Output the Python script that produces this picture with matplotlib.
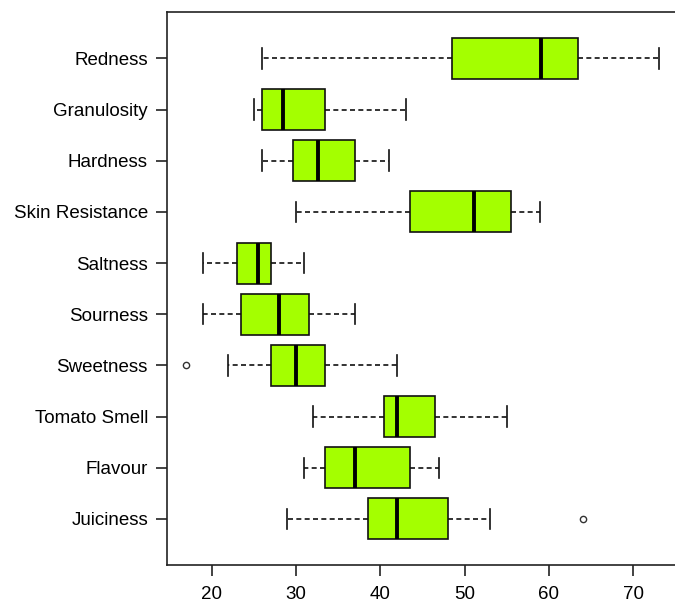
import matplotlib
matplotlib.use("Agg")
import matplotlib.pyplot as plt

# attributes, top to bottom as drawn
attributes = ["Redness", "Granulosity", "Hardness", "Skin Resistance", "Saltness",
              "Sourness", "Sweetness", "Tomato Smell", "Flavour", "Juiciness"]
whisker_low = [26, 25, 26, 30, 19, 19, 22, 32, 31, 29]
q1 = [48.5, 26, 29.6, 43.5, 23, 23.5, 27, 40.5, 33.5, 38.5]
medians = [59.1, 28.5, 32.6, 51.1, 25.5, 28, 30, 42, 37, 42]
q3 = [63.5, 33.5, 37, 55.5, 27, 31.5, 33.5, 46.5, 43.5, 48]
whisker_high = [73, 43, 41, 59, 31, 37, 42, 55, 47, 53]
outliers = [[], [], [], [], [], [], [17], [], [], [64]]
x_ticks = [20, 30, 40, 50, 60, 70]

plt.rcParams['font.family'] = ['Liberation Sans', 'DejaVu Sans']

stats = []
for i in range(len(attributes)):
    stats.append({
        'label': attributes[i],
        'whislo': whisker_low[i],
        'q1': q1[i],
        'med': medians[i],
        'q3': q3[i],
        'whishi': whisker_high[i],
        'fliers': outliers[i],
    })

# R draws first group at the bottom, so reverse
stats = stats[::-1]
positions = list(range(1, len(stats) + 1))

fig = plt.figure(figsize=(6.75, 6.04), dpi=100)
ax = fig.add_axes([0.248, 0.0646, 0.7556, 0.915])

ax.bxp(stats, positions=positions, vert=False, widths=0.8, capwidths=0.4,
       patch_artist=True,
       boxprops=dict(facecolor='#a4ff00', edgecolor='#111111', linewidth=1.2),
       medianprops=dict(color='black', linewidth=2.8, solid_capstyle='butt'),
       whiskerprops=dict(color='#111111', linewidth=1.2, linestyle=(0, (3, 2))),
       capprops=dict(color='#111111', linewidth=1.2),
       flierprops=dict(marker='o', markersize=4.5, markerfacecolor='white',
                       markeredgecolor='#333333', markeredgewidth=1.0))

ax.set_xlim(14.76, 75.24)
ax.set_ylim(0.1, 10.9)
ax.set_xticks(x_ticks)
ax.set_xticklabels([str(t) for t in x_ticks])
ax.set_yticks(positions)
ax.set_yticklabels([s['label'] for s in stats])

for sp in ax.spines.values():
    sp.set_linewidth(1.2)
    sp.set_color('#222222')
ax.tick_params(axis='both', length=8, width=1.2, color='#222222')
ax.tick_params(axis='y', pad=6, labelsize=13.5)
ax.tick_params(axis='x', pad=7, labelsize=13.5)

fig.savefig("out.png", dpi=100)
